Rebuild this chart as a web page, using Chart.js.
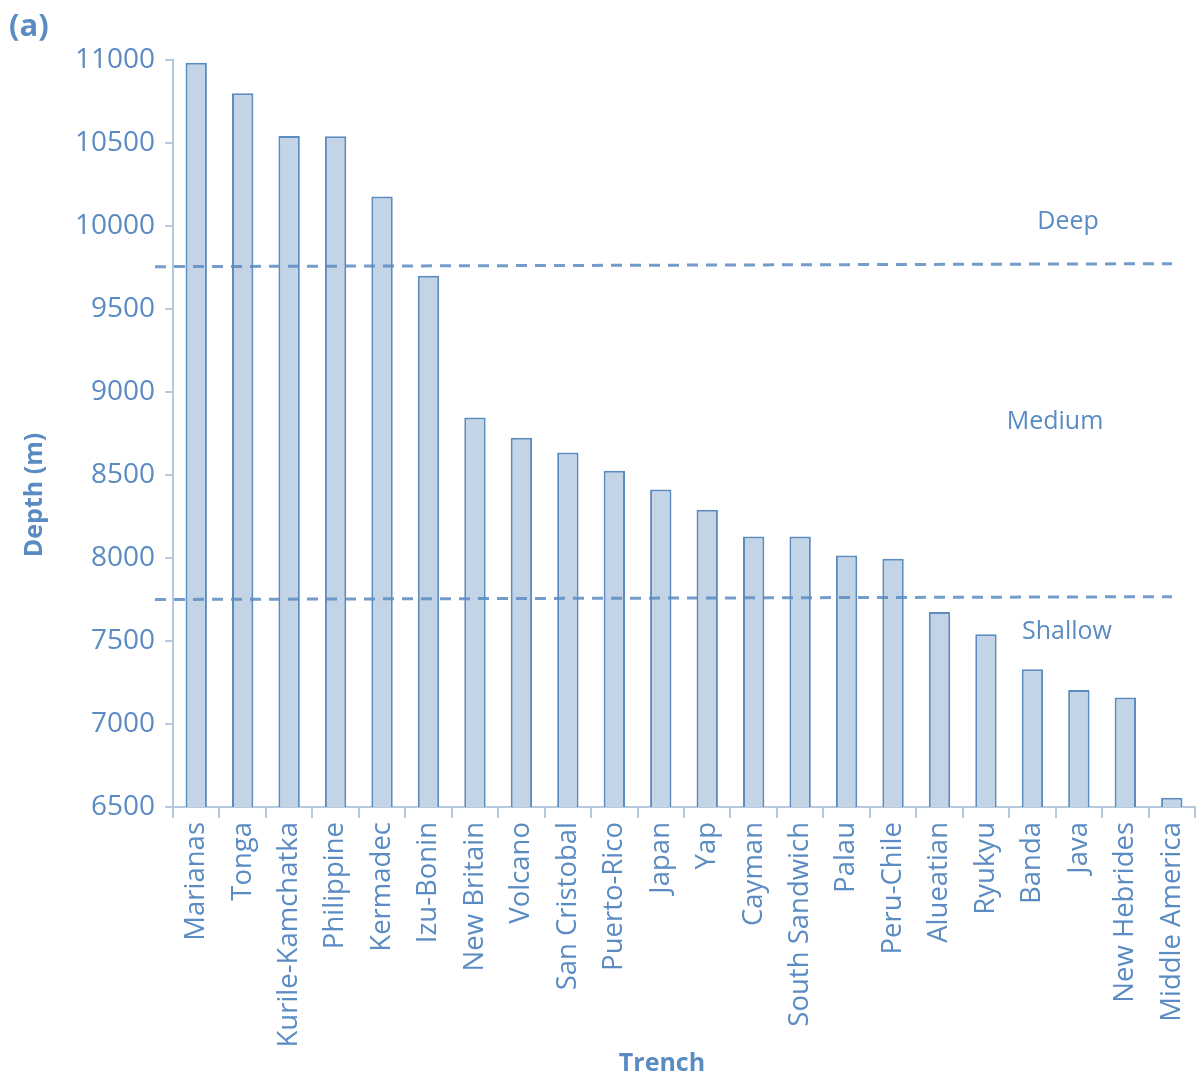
<!DOCTYPE html>
<html>
<head>
<meta charset="utf-8">
<script src="https://cdn.jsdelivr.net/npm/chart.js@4/dist/chart.umd.min.js"></script>
<style>
  html, body { margin: 0; padding: 0; background: #fff; }
  #wrap { position: relative; width: 1199px; height: 1081px; }
  #panel { position: absolute; left: 9px; top: 3px; font: bold 31px "Open Sans", sans-serif; color: #5a8bc2; }
</style>
</head>
<body>
<div id="wrap">
  <canvas id="depthChart" width="1199" height="1081"></canvas>
  <div id="panel">(a)</div>
</div>
<script>
    // Trench depths (m)
    const trenches = ["Marianas", "Tonga", "Kurile-Kamchatka", "Philippine", "Kermadec", "Izu-Bonin",
      "New Britain", "Volcano", "San Cristobal", "Puerto-Rico", "Japan", "Yap", "Cayman",
      "South Sandwich", "Palau", "Peru-Chile", "Alueatian", "Ryukyu", "Banda", "Java",
      "New Hebrides", "Middle America"];
    const depths = [10984, 10800, 10542, 10540, 10177, 9700, 8846, 8725, 8635, 8526, 8412, 8290,
      8130, 8130, 8015, 7995, 7675, 7540, 7330, 7205, 7160, 6555];
    const yTicks = [6500, 7000, 7500, 8000, 8500, 9000, 9500, 10000, 10500, 11000];

    // class boundaries (dashed lines), value at left end and right end
    const boundaryLeft = [9755, 7750];
    const boundaryRight = [9773, 7767];
    const classNames = ["Deep", "Medium", "Shallow"];
    const classDepths = [10024, 8819, 7554];

    const blue = "#5a8bc2";
    const axisCol = "#b7c9de";

    const zonesPlugin = {
      id: "zones",
      afterDatasetsDraw(chart) {
        const ctx = chart.ctx;
        const y = chart.scales.y;
        ctx.save();
        ctx.strokeStyle = "rgba(90,139,194,0.85)";
        ctx.lineWidth = 3;
        ctx.setLineDash([11, 8]);
        boundaryLeft.forEach((v, i) => {
          ctx.beginPath();
          ctx.moveTo(155, y.getPixelForValue(v));
          ctx.lineTo(1172, y.getPixelForValue(boundaryRight[i]));
          ctx.stroke();
        });
        ctx.setLineDash([]);
        ctx.fillStyle = blue;
        ctx.font = '25px "Open Sans", sans-serif';
        ctx.textAlign = "center";
        ctx.textBaseline = "middle";
        const xs = [1068, 1055, 1067];
        classNames.forEach((name, i) => {
          ctx.fillText(name, xs[i], y.getPixelForValue(classDepths[i]));
        });

        // axis titles
        ctx.font = 'bold 25px "Open Sans", sans-serif';
        ctx.fillText("Trench", 662, 1064);
        ctx.translate(35, 495);
        ctx.rotate(-Math.PI / 2);
        ctx.fillText("Depth (m)", 0, 0);
        ctx.restore();
      }
    };

    new Chart(document.getElementById("depthChart").getContext("2d"), {
      type: "bar",
      data: {
        labels: trenches,
        datasets: [{
          data: depths,
          backgroundColor: "#c3d4e6",
          borderColor: "#5b8bbf",
          borderWidth: 2,
          borderSkipped: "bottom",
          barPercentage: 0.46,
          categoryPercentage: 1
        }]
      },
      options: {
        responsive: false,
        animation: false,
        layout: { padding: { top: 60, right: 4, left: 0, bottom: 0 } },
        plugins: { legend: { display: false }, tooltip: { enabled: false } },
        scales: {
          x: {
            grid: { display: true, drawOnChartArea: false, offset: true, tickLength: 11, color: axisCol, lineWidth: 2 },
            border: { color: axisCol, width: 2 },
            ticks: { color: blue, font: { family: "Open Sans", size: 27.5 }, minRotation: 90, maxRotation: 90, autoSkip: false, padding: 4 },
            afterFit(scale) { scale.height = 274; scale.paddingRight = 0; scale.paddingLeft = 0; }
          },
          y: {
            min: 6500,
            max: 11000,
            afterBuildTicks(scale) { scale.ticks = yTicks.map(v => ({ value: v })); },
            grid: { display: true, drawOnChartArea: false, tickLength: 8, color: axisCol, lineWidth: 2 },
            border: { color: axisCol, width: 2 },
            ticks: { color: blue, font: { family: "Open Sans", size: 28 }, padding: 10, callback: v => String(v) },
            afterFit(scale) { scale.width = 173; }
          }
        }
      },
      plugins: [zonesPlugin]
    });
</script>
</body>
</html>
